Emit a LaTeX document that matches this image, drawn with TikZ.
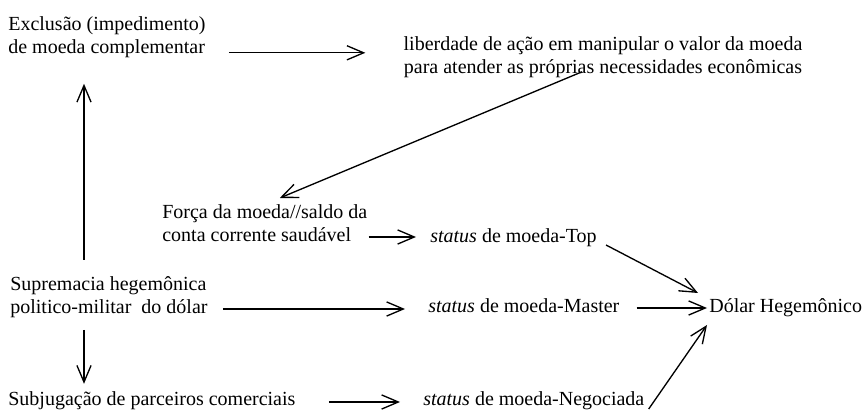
\documentclass[tikz,border=0pt]{standalone}
\usepackage{fontspec}
\setmainfont{Liberation Serif}
\usetikzlibrary{arrows.meta,calc}

\begin{document}
\begin{tikzpicture}[x=0.6pt,y=-0.6pt,
		txt/.style={inner sep=0pt,font=\fontsize{12}{13.8}\selectfont,align=left},
		arr/.style={-{Straight Barb[length=10pt,width=8.5pt]},line width=0.8pt}]
		\useasboundingbox (0,0) rectangle (865,415);
		\node[txt,anchor=north west] (excl) at (8,16) {Exclusão (impedimento)\\de moeda complementar};
		\node[txt,anchor=north,align=center] (lib) at (603,36) {liberdade de ação em manipular o valor da moeda\\para atender as próprias necessidades econômicas};
		\node[txt,anchor=north west] (forca) at (162,204) {Força da moeda//saldo da\\conta corrente saudável};
		\node[txt,anchor=north west] (supr) at (10,276) {Supremacia hegemônica\\politico-militar\ \ do dólar};
		\node[txt,anchor=base west] (subj) at (8,406) {Subjugação de parceiros comerciais};
		\node[txt,anchor=base west] (sttop) at (430,243) {\textit{status} de moeda-Top};
		\node[txt,anchor=base west] (stmaster) at (428,313) {\textit{status} de moeda-Master};
		\node[txt,anchor=base west] (stneg) at (423,406) {\textit{status} de moeda-Negociada};
		\node[txt,anchor=base west] (dolar) at (709,313) {Dólar Hegemônico};
		\draw[arr] ($(excl.south east)+(23,-5)$) -- ($(lib.west |- excl.south)+(-38,-5)$);
		\draw[arr] ($(lib.south)+(-21,-6)$) -- ($(forca.north)+(15,-6)$);
		\draw[arr] ($(forca.east |- sttop.base)+(1,-6)$) -- ($(sttop.base west)+(-14,-6)$);
		\draw[arr] ($(supr.east |- stmaster.base)+(15,-4)$) -- ($(stmaster.base west)+(-23,-4)$);
		\draw[arr] ($(supr.north west)+(74,-16)$) -- ($(excl.south west)+(76,26)$);
		\draw[arr] ($(supr.south west)+(74,12)$) -- ($(subj.north west)+(76,-8)$);
		\draw[arr] ($(subj.base east)+(33,-4)$) -- ($(stneg.base west)+(-23,-4)$);
		\draw[arr] ($(sttop.base east)+(9,2)$) -- ($(dolar.base west)+(-11,-20)$);
		\draw[arr] ($(stmaster.base east)+(17,-5)$) -- ($(dolar.base west)+(-2,-5)$);
		\draw[arr] ($(stneg.base east)+(4,3)$) -- ($(dolar.base west)+(-2,12)$);
	\end{tikzpicture}
\end{document}
